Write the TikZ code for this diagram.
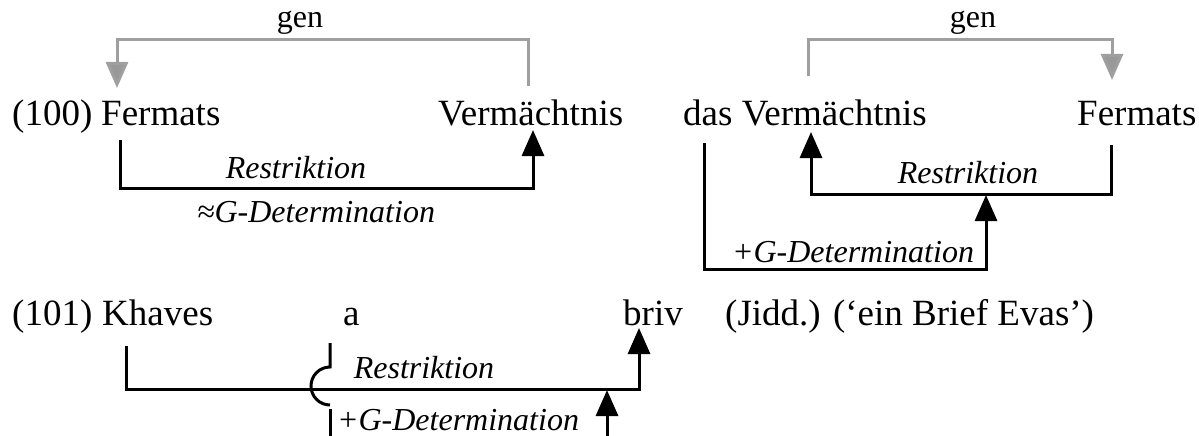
\documentclass[tikz,border=0pt]{standalone}
\usepackage{fontspec}
\setmainfont{Liberation Serif}
\usetikzlibrary{arrows.meta}

\begin{document}
\begin{tikzpicture}[
        x=1pt, y=-1pt,
        word/.style={anchor=base west, inner sep=0pt, font=\fontsize{37}{40}\selectfont},
        rel/.style={inner sep=0pt, font=\fontsize{32}{34}\selectfont\itshape},
        genlabel/.style={inner sep=0pt, font=\fontsize{32}{34}\selectfont},
        genline/.style={draw=gray!75, line width=3pt, -{Triangle[length=26pt, width=22pt, fill=gray!80]}},
        detline/.style={draw=black, line width=3pt, -{Triangle[length=26pt, width=22pt]}},
        plainline/.style={draw=black, line width=3pt}
    ]
    \useasboundingbox (0,0) rectangle (1199,436);

    % BEISPIEL (100), LINKS
    \node[word] (num100) at (12,125) {(100)};
    \node[word] (fermA) at (101,125) {Fermats};
    \node[word] (vermA) at (438,125) {Vermächtnis};

    % BEISPIEL (100), RECHTS
    \node[word] (vermB) at (683,125) {das Vermächtnis};
    \node[word] (fermB) at (1077,125) {Fermats};

    % BEISPIEL (101)
    \node[word] (num101) at (12,325) {(101)};
    \node[word] (khaves) at (102,325) {Khaves};
    \node[word] (art) at (343,325) {a};
    \node[word] (briv) at (623,325) {briv};
    \node[word] (gloss) at (725,325) {(Jidd.) (‘ein Brief Evas’)};

    % Endpunkte der Linien
    \coordinate (genAs) at (528,86);
    \coordinate (genAt) at (117,88);
    \coordinate (genBs) at (808,76);
    \coordinate (genBt) at (1112,80);
    \coordinate (resAs) at (120,140);
    \coordinate (resAt) at (533,130);
    \coordinate (inBs) at (1111,145);
    \coordinate (inBt) at (811,132);
    \coordinate (outBs) at (704,143);
    \coordinate (outBt) at (986,195);
    \coordinate (resCs) at (126,346);
    \coordinate (resCt) at (639,328);
    \coordinate (artS) at (330,343);
    \coordinate (artE) at (330,436);
    \coordinate (detCs) at (607,436);
    \coordinate (detCt) at (607,390);

    % gen-Pfeile
    \draw[genline] (genAs) -- (genAs |- 0,40) -| (genAt);
    \node[genlabel] (genA) at (300,23) {gen};
    \draw[genline] (genBs) -- (genBs |- 0,40) -| (genBt);
    \node[genlabel] (genB) at (973,23) {gen};

    % Restriktion / Determination (100)
    \draw[detline] (resAs) -- (resAs |- 0,188) -| (resAt);
    \node[rel] (resA) at (296,168) {Restriktion};
    \node[rel] (detA) at (316,212) {≈G-Determination};

    \draw[detline] (inBs) -- (inBs |- 0,194) -| (inBt);
    \draw[detline] (outBs) -- (outBs |- 0,269) -| (outBt);
    \node[rel] (resB) at (968,173) {Restriktion};
    \node[rel] (detB) at (853,252) {+G-Determination};

    % Restriktion / Determination (101)
    \draw[detline] (resCs) -- (resCs |- 0,389) -| (resCt);
    \draw[plainline] (artS) -- ++(0,24) arc[start angle=90, end angle=270, radius=19pt];
    \draw[plainline] (artE) -- ++(0,-27);
    \draw[detline] (detCs) -- (detCt);
    \node[rel] (resC) at (424,368) {Restriktion};
    \node[rel] (detC) at (458,420) {+G-Determination};
\end{tikzpicture}
\end{document}
